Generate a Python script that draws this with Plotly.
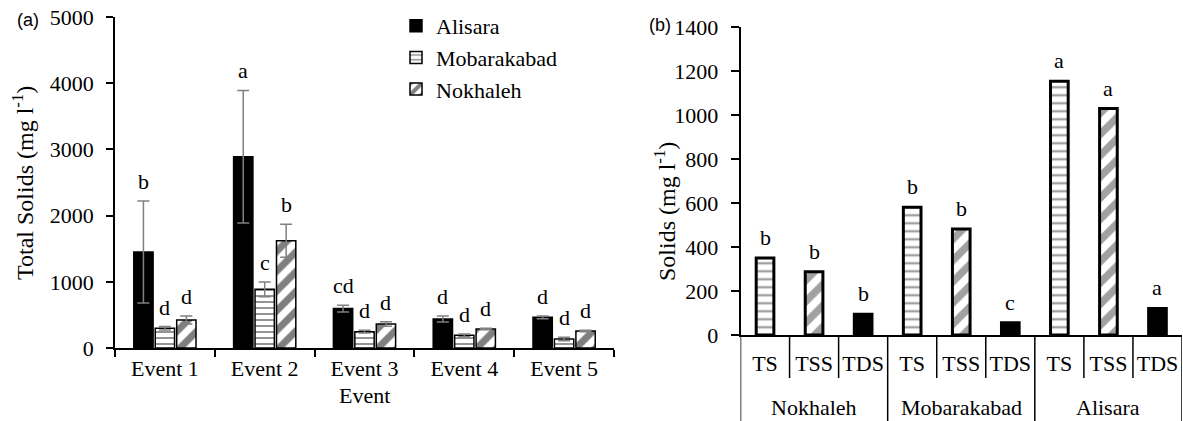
import plotly.graph_objects as go

# ---------------- data: panel (a) ----------------
events = ["Event 1", "Event 2", "Event 3", "Event 4", "Event 5"]
sites = ["Alisara", "Mobarakabad", "Nokhaleh"]
alisara = [1450, 2890, 595, 438, 463]
alisara_err = [770, 1000, 50, 45, 20]
mobarakabad = [298, 886, 247, 191, 136]
mobarakabad_err = [25, 110, 20, 20, 25]
nokhaleh = [423, 1621, 362, 287, 257]
nokhaleh_err = [60, 250, 35, 10, 10]
letters_alisara = ["b", "a", "cd", "d", "d"]
letters_mobarakabad = ["d", "c", "d", "d", "d"]
letters_nokhaleh = ["d", "b", "d", "d", "d"]

# ---------------- data: panel (b) ----------------
groups = ["Nokhaleh", "Mobarakabad", "Alisara"]
measures = ["TS", "TSS", "TDS"]
nokhaleh_solids = [350, 288, 94]
mobarakabad_solids = [581, 482, 56]
alisara_solids = [1154, 1030, 121]
nokhaleh_letters = ["b", "b", "b"]
mobarakabad_letters = ["b", "b", "c"]
alisara_letters = ["a", "a", "a"]

SERIF = "Liberation Serif"
SANS = "Liberation Sans"
BARGAP = 0.355
GROUPGAP = 0.10
W, H = 1183, 421

def px_x(p):
    return p / W

def px_y(p):
    return (H - p) / H

fig = go.Figure()

styles = {
    "Alisara": dict(color="black", pattern=dict(shape="")),
    "Mobarakabad": dict(color="white", pattern=dict(shape="-", fgcolor="black", bgcolor="white", size=6, solidity=0.28)),
    "Nokhaleh": dict(color="white", pattern=dict(shape="/", fgcolor="black", bgcolor="white", size=14, solidity=0.5)),
}
series = [(alisara, alisara_err, letters_alisara),
          (mobarakabad, mobarakabad_err, letters_mobarakabad),
          (nokhaleh, nokhaleh_err, letters_nokhaleh)]

for k, (name, (vals, errs, lets)) in enumerate(zip(sites, series)):
    st = styles[name]
    fig.add_trace(go.Bar(
        x=events, y=vals, name=name, legendgroup=name,
        marker=dict(color=st["color"], pattern=st["pattern"],
                    line=dict(color="black", width=1.5)),
        error_y=dict(type="data", array=errs, visible=True,
                     color="#808080", thickness=1.5, width=6),
        xaxis="x", yaxis="y",
    ))
    slot = (1 - BARGAP) / 3
    for i, (v, e, t) in enumerate(zip(vals, errs, lets)):
        fig.add_annotation(x=i + (k - 1) * slot, y=v + e, text=t, xref="x", yref="y",
                           showarrow=False, xanchor="center", yanchor="bottom", yshift=5,
                           font=dict(family=SERIF, size=22, color="black"))

# panel (b): one trace, 9 bars
vals_b = nokhaleh_solids + mobarakabad_solids + alisara_solids
letters_b = nokhaleh_letters + mobarakabad_letters + alisara_letters
idx_b = list(range(len(vals_b)))
shape_map = {"TS": "-", "TSS": "/", "TDS": ""}
color_map = {"TS": "white", "TSS": "white", "TDS": "black"}
meas_b = measures * len(groups)
fig.add_trace(go.Bar(
    x=idx_b, y=vals_b, width=0.36, showlegend=False,
    marker=dict(color=[color_map[m] for m in meas_b],
                pattern=dict(shape=[shape_map[m] for m in meas_b], fgcolor="black",
                             bgcolor="white", size=[8 if m == "TS" else 15 for m in meas_b],
                             solidity=[0.3 if m == "TS" else 0.5 for m in meas_b]),
                line=dict(color="black", width=3)),
    xaxis="x2", yaxis="y2",
))
for i, (v, t) in enumerate(zip(vals_b, letters_b)):
    fig.add_annotation(x=i, y=v, text=t, xref="x2", yref="y2", showarrow=False,
                       xanchor="center", yanchor="bottom", yshift=6,
                       font=dict(family=SERIF, size=22, color="black"))

# dividers under panel (b)
ybot_b = px_y(335)
for b in range(len(vals_b) + 1):
    long = (b % len(measures) == 0)
    fig.add_shape(type="line", xref="x2", yref="paper", x0=b - 0.5, x1=b - 0.5,
                  y0=ybot_b, y1=0 if long else px_y(378),
                  line=dict(color="black", width=1.5))
for g, name in enumerate(groups):
    fig.add_annotation(x=g * len(measures) + 1, y=px_y(407), xref="x2", yref="paper",
                       text=name, showarrow=False, xanchor="center", yanchor="middle",
                       font=dict(family=SERIF, size=22, color="black"))

# titles & panel labels
def label(x, y, text, size, family=SERIF, angle=0):
    fig.add_annotation(x=px_x(x), y=px_y(y), xref="paper", yref="paper", textangle=angle,
                       text=text, showarrow=False, xanchor="center", yanchor="middle",
                       font=dict(family=family, size=size, color="black"))

label(23, 183, "Total Solids (mg l<sup>-1</sup>)", 24, angle=-90)
label(665, 212, "Solids (mg l<sup>-1</sup>)", 24, angle=-90)
label(364, 395, "Event", 22)
label(28, 20, "(a)", 18, family=SANS)
label(660, 25, "(b)", 18, family=SANS)

axis_common = dict(showline=True, linecolor="black", linewidth=1.5, showgrid=False,
                   zeroline=False, automargin=False,
                   tickfont=dict(family=SERIF, size=22, color="black"))

fig.update_layout(
    width=W, height=H, autosize=False,
    margin=dict(l=0, r=0, t=0, b=0, pad=0, autoexpand=False),
    paper_bgcolor="white", plot_bgcolor="white",
    barmode="group", bargap=BARGAP, bargroupgap=GROUPGAP,
    xaxis=dict(domain=[px_x(115), px_x(614)], anchor="y", type="category",
               ticks="outside", tickson="boundaries", ticklen=7, tickwidth=1.5,
               tickcolor="black", **axis_common),
    yaxis=dict(domain=[px_y(348), px_y(17)], anchor="x", range=[0, 5000], dtick=1000,
               ticks="outside", ticklen=7, tickwidth=1.5, tickcolor="black",
               ticklabelstandoff=8, **axis_common),
    xaxis2=dict(domain=[px_x(740.5), px_x(1182)], anchor="y2", range=[-0.5, 8.5],
                tickmode="array", tickvals=idx_b, ticktext=meas_b, ticks="",
                ticklabelstandoff=8, **axis_common),
    yaxis2=dict(domain=[px_y(335), px_y(27.3)], anchor="x2", range=[0, 1400], dtick=200,
                ticks="outside", ticklen=8, tickwidth=1.5, tickcolor="black",
                ticklabelstandoff=8, **axis_common),
    legend=dict(x=px_x(396), y=px_y(5), xanchor="left", yanchor="top",
                bgcolor="rgba(0,0,0,0)", tracegroupgap=0,
                font=dict(family=SERIF, size=22, color="black")),
    showlegend=True,
)

fig.write_html("out.html", config={"displayModeBar": False},
               post_script="document.body.style.margin='0';")
